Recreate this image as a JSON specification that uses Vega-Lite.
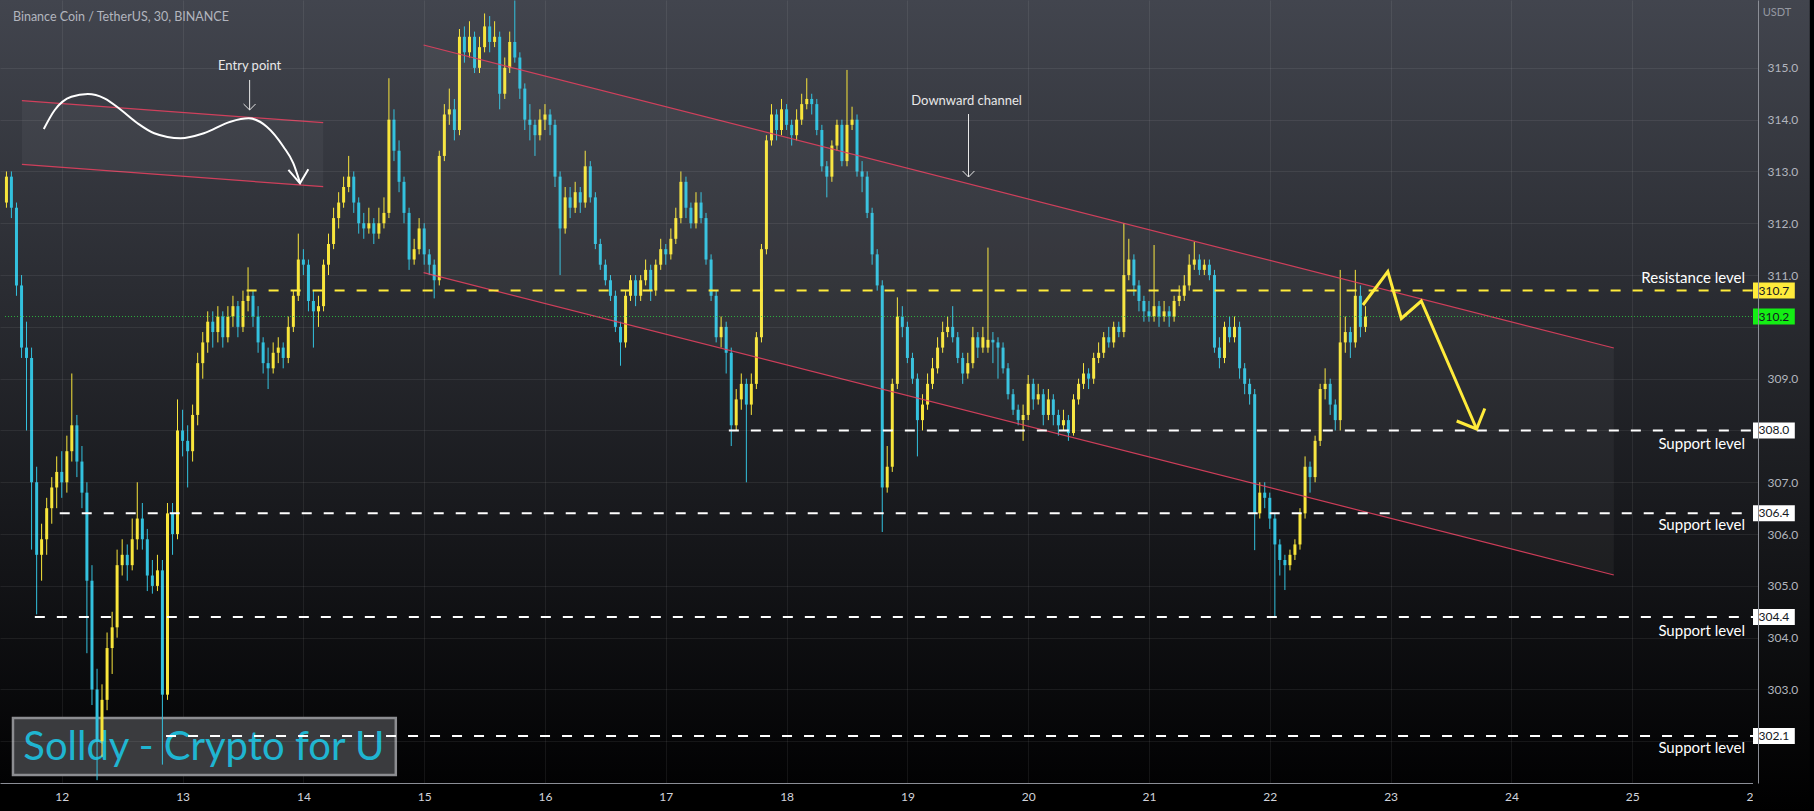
{
"$schema":"https://vega.github.io/schema/vega-lite/v6.json",
"width":1758,"height":783,
"autosize":{"type":"none"},
"padding":{"left":0,"top":0,"right":56,"bottom":28},
"background":"#000000",
"config":{
 "font":"Lato",
 "view":{"stroke":null,"fill":{"gradient":"linear","x1":0,"y1":0,"x2":0,"y2":1,"stops":[{"offset":0,"color":"#42454e"},{"offset":1,"color":"#020203"}]}}
},
"datasets":{
 "candles":[
{"t":11.542,"o":312.4,"h":313.0,"l":312.3,"c":312.9},
{"t":11.583,"o":312.9,"h":313.0,"l":312.1,"c":312.3},
{"t":11.625,"o":312.3,"h":312.4,"l":310.6,"c":310.8},
{"t":11.667,"o":310.8,"h":311.0,"l":309.4,"c":309.6},
{"t":11.708,"o":309.6,"h":310.1,"l":308.0,"c":309.4},
{"t":11.75,"o":309.4,"h":309.6,"l":305.7,"c":307.0},
{"t":11.792,"o":307.0,"h":307.3,"l":304.45,"c":305.6},
{"t":11.833,"o":305.6,"h":306.2,"l":305.1,"c":305.9},
{"t":11.875,"o":305.9,"h":306.7,"l":305.6,"c":306.5},
{"t":11.917,"o":306.5,"h":307.1,"l":306.2,"c":306.9},
{"t":11.958,"o":306.9,"h":307.5,"l":306.5,"c":307.2},
{"t":12.0,"o":307.2,"h":307.6,"l":306.7,"c":307.0},
{"t":12.042,"o":307.0,"h":307.9,"l":306.8,"c":307.6},
{"t":12.083,"o":307.6,"h":309.1,"l":307.4,"c":308.1},
{"t":12.125,"o":308.1,"h":308.3,"l":307.1,"c":307.4},
{"t":12.167,"o":307.4,"h":307.7,"l":306.5,"c":306.8},
{"t":12.208,"o":306.8,"h":307.0,"l":303.7,"c":305.1},
{"t":12.25,"o":305.1,"h":305.4,"l":302.7,"c":303.0},
{"t":12.292,"o":303.0,"h":303.4,"l":301.25,"c":302.0},
{"t":12.333,"o":302.0,"h":303.1,"l":301.7,"c":302.8},
{"t":12.375,"o":302.8,"h":304.1,"l":302.6,"c":303.8},
{"t":12.417,"o":303.8,"h":304.5,"l":303.3,"c":304.2},
{"t":12.458,"o":304.2,"h":305.7,"l":304.0,"c":305.4},
{"t":12.5,"o":305.4,"h":305.9,"l":305.2,"c":305.6},
{"t":12.542,"o":305.6,"h":305.8,"l":305.1,"c":305.4},
{"t":12.583,"o":305.4,"h":306.3,"l":305.3,"c":305.9},
{"t":12.625,"o":305.9,"h":307.0,"l":305.7,"c":306.3},
{"t":12.667,"o":306.3,"h":306.6,"l":305.7,"c":305.9},
{"t":12.708,"o":305.9,"h":306.1,"l":304.9,"c":305.2},
{"t":12.75,"o":305.2,"h":305.5,"l":304.85,"c":305.0},
{"t":12.792,"o":305.0,"h":305.6,"l":304.9,"c":305.3},
{"t":12.833,"o":305.3,"h":305.5,"l":301.55,"c":302.9},
{"t":12.875,"o":302.9,"h":306.6,"l":302.8,"c":306.4},
{"t":12.917,"o":306.4,"h":306.6,"l":305.6,"c":306.0},
{"t":12.958,"o":306.0,"h":308.6,"l":305.9,"c":308.0},
{"t":13.0,"o":308.0,"h":308.4,"l":307.5,"c":307.8},
{"t":13.042,"o":307.8,"h":308.1,"l":306.9,"c":307.6},
{"t":13.083,"o":307.6,"h":308.5,"l":307.4,"c":308.3},
{"t":13.125,"o":308.3,"h":309.5,"l":308.1,"c":309.3},
{"t":13.167,"o":309.3,"h":309.9,"l":309.0,"c":309.7},
{"t":13.208,"o":309.7,"h":310.3,"l":309.5,"c":310.1},
{"t":13.25,"o":310.1,"h":310.3,"l":309.6,"c":309.9},
{"t":13.292,"o":309.9,"h":310.4,"l":309.7,"c":310.2},
{"t":13.333,"o":310.2,"h":310.3,"l":309.6,"c":309.8},
{"t":13.375,"o":309.8,"h":310.4,"l":309.7,"c":310.2},
{"t":13.417,"o":310.2,"h":310.6,"l":310.0,"c":310.4},
{"t":13.458,"o":310.4,"h":310.5,"l":309.8,"c":310.0},
{"t":13.5,"o":310.0,"h":310.7,"l":309.9,"c":310.5},
{"t":13.542,"o":310.5,"h":311.15,"l":310.3,"c":310.6},
{"t":13.583,"o":310.6,"h":310.7,"l":310.0,"c":310.2},
{"t":13.625,"o":310.2,"h":310.4,"l":309.5,"c":309.7},
{"t":13.667,"o":309.7,"h":309.8,"l":309.1,"c":309.3},
{"t":13.708,"o":309.3,"h":309.6,"l":308.8,"c":309.2},
{"t":13.75,"o":309.2,"h":309.7,"l":309.1,"c":309.5},
{"t":13.792,"o":309.5,"h":309.8,"l":309.3,"c":309.6},
{"t":13.833,"o":309.6,"h":309.7,"l":309.2,"c":309.4},
{"t":13.875,"o":309.4,"h":310.2,"l":309.3,"c":310.0},
{"t":13.917,"o":310.0,"h":310.7,"l":309.9,"c":310.6},
{"t":13.958,"o":310.6,"h":311.8,"l":310.5,"c":311.3},
{"t":14.0,"o":311.3,"h":311.5,"l":311.0,"c":311.2},
{"t":14.042,"o":311.2,"h":311.3,"l":310.3,"c":310.5},
{"t":14.083,"o":310.5,"h":310.7,"l":309.6,"c":310.3},
{"t":14.125,"o":310.3,"h":310.6,"l":310.0,"c":310.4},
{"t":14.167,"o":310.4,"h":311.3,"l":310.3,"c":311.2},
{"t":14.208,"o":311.2,"h":311.8,"l":311.0,"c":311.6},
{"t":14.25,"o":311.6,"h":312.3,"l":311.5,"c":312.1},
{"t":14.292,"o":312.1,"h":312.6,"l":311.9,"c":312.4},
{"t":14.333,"o":312.4,"h":312.9,"l":312.3,"c":312.7},
{"t":14.375,"o":312.7,"h":313.3,"l":312.6,"c":312.9},
{"t":14.417,"o":312.9,"h":313.0,"l":312.2,"c":312.4},
{"t":14.458,"o":312.4,"h":312.5,"l":311.8,"c":312.0},
{"t":14.5,"o":312.0,"h":312.2,"l":311.7,"c":311.9},
{"t":14.542,"o":311.9,"h":312.3,"l":311.8,"c":312.0},
{"t":14.583,"o":312.0,"h":312.1,"l":311.6,"c":311.8},
{"t":14.625,"o":311.8,"h":312.3,"l":311.7,"c":312.0},
{"t":14.667,"o":312.0,"h":312.5,"l":311.9,"c":312.2},
{"t":14.708,"o":312.2,"h":314.8,"l":312.1,"c":314.0},
{"t":14.75,"o":314.0,"h":314.2,"l":313.2,"c":313.4},
{"t":14.792,"o":313.4,"h":313.6,"l":312.6,"c":312.8},
{"t":14.833,"o":312.8,"h":312.9,"l":312.0,"c":312.2},
{"t":14.875,"o":312.2,"h":312.3,"l":311.1,"c":311.3},
{"t":14.917,"o":311.3,"h":311.7,"l":311.2,"c":311.5},
{"t":14.958,"o":311.5,"h":312.1,"l":311.4,"c":311.9},
{"t":15.0,"o":311.9,"h":312.0,"l":311.2,"c":311.4},
{"t":15.042,"o":311.4,"h":311.5,"l":311.0,"c":311.2},
{"t":15.083,"o":311.2,"h":311.3,"l":310.55,"c":310.9},
{"t":15.125,"o":310.9,"h":313.4,"l":310.8,"c":313.3},
{"t":15.167,"o":313.3,"h":314.3,"l":313.2,"c":314.1},
{"t":15.208,"o":314.1,"h":314.6,"l":313.9,"c":314.2},
{"t":15.25,"o":314.2,"h":314.4,"l":313.6,"c":313.8},
{"t":15.292,"o":313.8,"h":315.75,"l":313.7,"c":315.6},
{"t":15.333,"o":315.6,"h":315.8,"l":315.1,"c":315.3},
{"t":15.375,"o":315.3,"h":315.9,"l":315.2,"c":315.6},
{"t":15.417,"o":315.6,"h":315.7,"l":314.9,"c":315.0},
{"t":15.458,"o":315.0,"h":315.6,"l":314.9,"c":315.4},
{"t":15.5,"o":315.4,"h":316.05,"l":315.3,"c":315.8},
{"t":15.542,"o":315.8,"h":316.0,"l":315.3,"c":315.5},
{"t":15.583,"o":315.5,"h":315.9,"l":315.4,"c":315.6},
{"t":15.625,"o":315.6,"h":315.7,"l":314.2,"c":314.5},
{"t":15.667,"o":314.5,"h":315.2,"l":314.4,"c":315.0},
{"t":15.708,"o":315.0,"h":315.7,"l":314.9,"c":315.5},
{"t":15.75,"o":315.5,"h":316.3,"l":315.1,"c":315.2},
{"t":15.792,"o":315.2,"h":315.3,"l":314.4,"c":314.6},
{"t":15.833,"o":314.6,"h":314.7,"l":313.8,"c":314.0},
{"t":15.875,"o":314.0,"h":314.3,"l":313.6,"c":313.9},
{"t":15.917,"o":313.9,"h":314.0,"l":313.3,"c":313.7},
{"t":15.958,"o":313.7,"h":314.2,"l":313.6,"c":314.0},
{"t":16.0,"o":314.0,"h":314.3,"l":313.8,"c":314.1},
{"t":16.042,"o":314.1,"h":314.2,"l":313.7,"c":313.9},
{"t":16.083,"o":313.9,"h":314.0,"l":312.7,"c":312.9},
{"t":16.125,"o":312.9,"h":313.0,"l":311.0,"c":311.9},
{"t":16.167,"o":311.9,"h":312.7,"l":311.8,"c":312.5},
{"t":16.208,"o":312.5,"h":312.7,"l":312.1,"c":312.3},
{"t":16.25,"o":312.3,"h":312.8,"l":312.2,"c":312.6},
{"t":16.292,"o":312.6,"h":312.7,"l":312.2,"c":312.4},
{"t":16.333,"o":312.4,"h":313.4,"l":312.3,"c":313.1},
{"t":16.375,"o":313.1,"h":313.2,"l":312.4,"c":312.5},
{"t":16.417,"o":312.5,"h":312.6,"l":311.5,"c":311.6},
{"t":16.458,"o":311.6,"h":311.7,"l":311.1,"c":311.2},
{"t":16.5,"o":311.2,"h":311.3,"l":310.8,"c":310.9},
{"t":16.542,"o":310.9,"h":311.0,"l":310.5,"c":310.6},
{"t":16.583,"o":310.6,"h":310.7,"l":309.9,"c":310.0},
{"t":16.625,"o":310.0,"h":310.1,"l":309.25,"c":309.7},
{"t":16.667,"o":309.7,"h":310.7,"l":309.6,"c":310.6},
{"t":16.708,"o":310.6,"h":311.0,"l":310.5,"c":310.9},
{"t":16.75,"o":310.9,"h":311.0,"l":310.4,"c":310.6},
{"t":16.792,"o":310.6,"h":311.0,"l":310.5,"c":310.9},
{"t":16.833,"o":310.9,"h":311.3,"l":310.8,"c":311.1},
{"t":16.875,"o":311.1,"h":311.2,"l":310.5,"c":310.7},
{"t":16.917,"o":310.7,"h":311.3,"l":310.6,"c":311.2},
{"t":16.958,"o":311.2,"h":311.7,"l":311.1,"c":311.5},
{"t":17.0,"o":311.5,"h":311.6,"l":311.2,"c":311.4},
{"t":17.042,"o":311.4,"h":311.9,"l":311.3,"c":311.7},
{"t":17.083,"o":311.7,"h":312.3,"l":311.6,"c":312.1},
{"t":17.125,"o":312.1,"h":313.0,"l":312.0,"c":312.8},
{"t":17.167,"o":312.8,"h":312.9,"l":312.1,"c":312.3},
{"t":17.208,"o":312.3,"h":312.4,"l":311.9,"c":312.0},
{"t":17.25,"o":312.0,"h":312.6,"l":311.9,"c":312.4},
{"t":17.292,"o":312.4,"h":312.6,"l":312.0,"c":312.1},
{"t":17.333,"o":312.1,"h":312.2,"l":311.2,"c":311.3},
{"t":17.375,"o":311.3,"h":311.4,"l":310.5,"c":310.6},
{"t":17.417,"o":310.6,"h":310.7,"l":309.7,"c":309.8},
{"t":17.458,"o":309.8,"h":310.2,"l":309.6,"c":310.0},
{"t":17.5,"o":310.0,"h":310.1,"l":309.1,"c":309.5},
{"t":17.542,"o":309.5,"h":309.6,"l":307.7,"c":308.1},
{"t":17.583,"o":308.1,"h":308.8,"l":308.0,"c":308.6},
{"t":17.625,"o":308.6,"h":309.1,"l":308.4,"c":308.9},
{"t":17.667,"o":308.9,"h":309.0,"l":307.0,"c":308.5},
{"t":17.708,"o":308.5,"h":309.1,"l":308.3,"c":308.9},
{"t":17.75,"o":308.9,"h":309.9,"l":308.8,"c":309.8},
{"t":17.792,"o":309.8,"h":311.6,"l":309.7,"c":311.5},
{"t":17.833,"o":311.5,"h":313.7,"l":311.4,"c":313.6},
{"t":17.875,"o":313.6,"h":314.3,"l":313.5,"c":314.1},
{"t":17.917,"o":314.1,"h":314.2,"l":313.6,"c":313.8},
{"t":17.958,"o":313.8,"h":314.4,"l":313.7,"c":314.2},
{"t":18.0,"o":314.2,"h":314.3,"l":313.8,"c":313.9},
{"t":18.042,"o":313.9,"h":314.0,"l":313.5,"c":313.7},
{"t":18.083,"o":313.7,"h":314.2,"l":313.6,"c":314.0},
{"t":18.125,"o":314.0,"h":314.5,"l":313.9,"c":314.3},
{"t":18.167,"o":314.3,"h":314.8,"l":314.2,"c":314.4},
{"t":18.208,"o":314.4,"h":314.5,"l":314.1,"c":314.3},
{"t":18.25,"o":314.3,"h":314.4,"l":313.7,"c":313.8},
{"t":18.292,"o":313.8,"h":313.9,"l":313.0,"c":313.1},
{"t":18.333,"o":313.1,"h":313.2,"l":312.5,"c":312.9},
{"t":18.375,"o":312.9,"h":313.6,"l":312.8,"c":313.5},
{"t":18.417,"o":313.5,"h":314.0,"l":313.4,"c":313.9},
{"t":18.458,"o":313.9,"h":314.0,"l":313.1,"c":313.2},
{"t":18.5,"o":313.2,"h":314.96,"l":313.1,"c":313.9},
{"t":18.542,"o":313.9,"h":314.25,"l":313.8,"c":314.0},
{"t":18.583,"o":314.0,"h":314.1,"l":312.9,"c":313.0},
{"t":18.625,"o":313.0,"h":313.2,"l":312.6,"c":312.9},
{"t":18.667,"o":312.9,"h":313.0,"l":312.1,"c":312.2},
{"t":18.708,"o":312.2,"h":312.3,"l":311.2,"c":311.4},
{"t":18.75,"o":311.4,"h":311.5,"l":310.7,"c":310.8},
{"t":18.792,"o":310.8,"h":310.9,"l":306.04,"c":306.9},
{"t":18.833,"o":306.9,"h":307.7,"l":306.8,"c":307.3},
{"t":18.875,"o":307.3,"h":309.0,"l":307.2,"c":308.9},
{"t":18.917,"o":308.9,"h":310.57,"l":308.8,"c":310.2},
{"t":18.958,"o":310.2,"h":310.4,"l":309.8,"c":310.0},
{"t":19.0,"o":310.0,"h":310.1,"l":309.3,"c":309.4},
{"t":19.042,"o":309.4,"h":309.5,"l":308.9,"c":309.0},
{"t":19.083,"o":309.0,"h":309.1,"l":307.5,"c":308.2},
{"t":19.125,"o":308.2,"h":308.7,"l":308.0,"c":308.5},
{"t":19.167,"o":308.5,"h":309.1,"l":308.4,"c":308.9},
{"t":19.208,"o":308.9,"h":309.4,"l":308.8,"c":309.2},
{"t":19.25,"o":309.2,"h":309.8,"l":309.1,"c":309.6},
{"t":19.292,"o":309.6,"h":310.1,"l":309.5,"c":309.9},
{"t":19.333,"o":309.9,"h":310.2,"l":309.8,"c":310.0},
{"t":19.375,"o":310.0,"h":310.4,"l":309.7,"c":309.8},
{"t":19.417,"o":309.8,"h":309.9,"l":309.3,"c":309.4},
{"t":19.458,"o":309.4,"h":309.5,"l":308.9,"c":309.1},
{"t":19.5,"o":309.1,"h":309.5,"l":309.0,"c":309.3},
{"t":19.542,"o":309.3,"h":310.0,"l":309.2,"c":309.8},
{"t":19.583,"o":309.8,"h":309.9,"l":309.4,"c":309.6},
{"t":19.625,"o":309.6,"h":310.0,"l":309.5,"c":309.8},
{"t":19.667,"o":309.6,"h":311.53,"l":309.5,"c":309.75},
{"t":19.708,"o":309.75,"h":309.9,"l":309.3,"c":309.7},
{"t":19.75,"o":309.7,"h":309.8,"l":309.0,"c":309.6},
{"t":19.792,"o":309.6,"h":309.7,"l":309.1,"c":309.2},
{"t":19.833,"o":309.2,"h":309.3,"l":308.6,"c":308.7},
{"t":19.875,"o":308.7,"h":308.8,"l":308.3,"c":308.4},
{"t":19.917,"o":308.4,"h":308.5,"l":308.1,"c":308.2},
{"t":19.958,"o":308.2,"h":308.5,"l":307.8,"c":308.3},
{"t":20.0,"o":308.3,"h":309.07,"l":308.2,"c":308.9},
{"t":20.042,"o":308.9,"h":309.0,"l":308.4,"c":308.6},
{"t":20.083,"o":308.6,"h":308.9,"l":308.5,"c":308.7},
{"t":20.125,"o":308.7,"h":308.8,"l":308.1,"c":308.3},
{"t":20.167,"o":308.3,"h":308.8,"l":308.2,"c":308.6},
{"t":20.208,"o":308.6,"h":308.7,"l":308.1,"c":308.3},
{"t":20.25,"o":308.3,"h":308.4,"l":307.9,"c":308.1},
{"t":20.292,"o":308.1,"h":308.4,"l":308.0,"c":308.2},
{"t":20.333,"o":308.2,"h":308.3,"l":307.8,"c":307.95},
{"t":20.375,"o":307.95,"h":308.7,"l":307.9,"c":308.6},
{"t":20.417,"o":308.6,"h":309.0,"l":308.5,"c":308.9},
{"t":20.458,"o":308.9,"h":309.3,"l":308.8,"c":309.1},
{"t":20.5,"o":309.1,"h":309.2,"l":308.8,"c":309.0},
{"t":20.542,"o":309.0,"h":309.5,"l":308.9,"c":309.4},
{"t":20.583,"o":309.4,"h":309.7,"l":309.3,"c":309.5},
{"t":20.625,"o":309.5,"h":309.9,"l":309.4,"c":309.8},
{"t":20.667,"o":309.8,"h":310.0,"l":309.6,"c":309.7},
{"t":20.708,"o":309.7,"h":310.1,"l":309.6,"c":310.0},
{"t":20.75,"o":310.0,"h":310.1,"l":309.8,"c":309.9},
{"t":20.792,"o":309.9,"h":312.0,"l":309.8,"c":311.0},
{"t":20.833,"o":311.0,"h":311.7,"l":310.9,"c":311.3},
{"t":20.875,"o":311.3,"h":311.4,"l":310.6,"c":310.8},
{"t":20.917,"o":310.8,"h":310.9,"l":310.3,"c":310.5},
{"t":20.958,"o":310.5,"h":310.6,"l":310.1,"c":310.3},
{"t":21.0,"o":310.3,"h":310.5,"l":310.1,"c":310.2},
{"t":21.042,"o":310.2,"h":311.58,"l":310.1,"c":310.4},
{"t":21.083,"o":310.4,"h":310.5,"l":310.0,"c":310.2},
{"t":21.125,"o":310.2,"h":310.5,"l":310.1,"c":310.3},
{"t":21.167,"o":310.3,"h":310.4,"l":310.0,"c":310.2},
{"t":21.208,"o":310.2,"h":310.6,"l":310.1,"c":310.5},
{"t":21.25,"o":310.5,"h":310.8,"l":310.4,"c":310.6},
{"t":21.292,"o":310.6,"h":311.0,"l":310.5,"c":310.8},
{"t":21.333,"o":310.8,"h":311.4,"l":310.7,"c":311.2},
{"t":21.375,"o":311.2,"h":311.64,"l":311.1,"c":311.3},
{"t":21.417,"o":311.3,"h":311.4,"l":311.0,"c":311.1},
{"t":21.458,"o":311.1,"h":311.3,"l":311.0,"c":311.2},
{"t":21.5,"o":311.2,"h":311.3,"l":310.9,"c":311.0},
{"t":21.542,"o":311.0,"h":311.1,"l":309.5,"c":309.6},
{"t":21.583,"o":309.6,"h":309.8,"l":309.2,"c":309.4},
{"t":21.625,"o":309.4,"h":310.1,"l":309.3,"c":310.0},
{"t":21.667,"o":310.0,"h":310.2,"l":309.7,"c":309.8},
{"t":21.708,"o":309.8,"h":310.2,"l":309.7,"c":310.0},
{"t":21.75,"o":310.0,"h":310.1,"l":309.0,"c":309.2},
{"t":21.792,"o":309.2,"h":309.3,"l":308.7,"c":308.9},
{"t":21.833,"o":308.9,"h":309.0,"l":308.5,"c":308.7},
{"t":21.875,"o":308.7,"h":308.8,"l":305.69,"c":306.4},
{"t":21.917,"o":306.4,"h":307.0,"l":306.3,"c":306.8},
{"t":21.958,"o":306.8,"h":307.0,"l":306.5,"c":306.7},
{"t":22.0,"o":306.7,"h":306.8,"l":306.1,"c":306.3},
{"t":22.042,"o":306.3,"h":306.4,"l":304.4,"c":305.8},
{"t":22.083,"o":305.8,"h":305.9,"l":305.2,"c":305.5},
{"t":22.125,"o":305.5,"h":305.6,"l":304.92,"c":305.4},
{"t":22.167,"o":305.4,"h":305.7,"l":305.3,"c":305.6},
{"t":22.208,"o":305.6,"h":305.9,"l":305.5,"c":305.8},
{"t":22.25,"o":305.8,"h":306.5,"l":305.7,"c":306.4},
{"t":22.292,"o":306.4,"h":307.5,"l":306.3,"c":307.3},
{"t":22.333,"o":307.3,"h":307.4,"l":306.8,"c":307.1},
{"t":22.375,"o":307.1,"h":307.9,"l":307.0,"c":307.8},
{"t":22.417,"o":307.8,"h":308.9,"l":307.7,"c":308.8},
{"t":22.458,"o":308.8,"h":309.2,"l":308.6,"c":308.9},
{"t":22.5,"o":308.9,"h":309.0,"l":308.3,"c":308.5},
{"t":22.542,"o":308.5,"h":308.6,"l":308.0,"c":308.2},
{"t":22.583,"o":308.2,"h":311.1,"l":308.0,"c":309.7},
{"t":22.625,"o":309.7,"h":310.2,"l":309.5,"c":309.9},
{"t":22.667,"o":309.9,"h":310.0,"l":309.4,"c":309.7},
{"t":22.708,"o":309.7,"h":311.1,"l":309.6,"c":310.6},
{"t":22.75,"o":310.6,"h":310.8,"l":309.8,"c":310.0},
{"t":22.792,"o":310.0,"h":310.4,"l":309.9,"c":310.2}
 ],
 "channels":[
  {"g":"entry","x":11.670,"u":314.366,"lo":313.138},
  {"g":"entry","x":14.164,"u":313.941,"lo":312.706},
  {"g":"down","x":14.995,"u":315.441,"lo":311.046},
  {"g":"down","x":24.848,"u":309.592,"lo":305.210}
 ],
 "curve":[
  {"x":11.851,"y":313.820},{"x":11.942,"y":314.187},{"x":12.079,"y":314.443},{"x":12.216,"y":314.495},
  {"x":12.353,"y":314.412},{"x":12.491,"y":314.186},{"x":12.627,"y":313.930},{"x":12.765,"y":313.737},
  {"x":12.984,"y":313.640},{"x":13.176,"y":313.737},{"x":13.396,"y":313.961},{"x":13.547,"y":314.026},
  {"x":13.697,"y":313.864},{"x":13.835,"y":313.478},{"x":13.917,"y":313.158},{"x":13.972,"y":312.783}
 ],
 "whiteArrows":[
  {"g":"c","i":0,"x":13.876,"y":313.029},{"g":"c","i":1,"x":13.972,"y":312.770},{"g":"c","i":2,"x":14.041,"y":313.042}
 ],
 "thinArrows":[
  {"g":"e1","i":0,"x":13.555,"y":314.766},{"g":"e1","i":1,"x":13.555,"y":314.187},
  {"g":"e2","i":0,"x":13.505,"y":314.302},{"g":"e2","i":1,"x":13.555,"y":314.187},{"g":"e2","i":2,"x":13.604,"y":314.302},
  {"g":"d1","i":0,"x":19.506,"y":314.109},{"g":"d1","i":1,"x":19.506,"y":312.893},
  {"g":"d2","i":0,"x":19.457,"y":313.009},{"g":"d2","i":1,"x":19.506,"y":312.893},{"g":"d2","i":2,"x":19.555,"y":313.009}
 ],
 "yellowPath":[
  {"g":"z","i":0,"x":22.771,"y":310.422},{"g":"z","i":1,"x":22.977,"y":311.069},{"g":"z","i":2,"x":23.089,"y":310.162},
  {"g":"z","i":3,"x":23.254,"y":310.499},{"g":"z","i":4,"x":23.712,"y":308.029},
  {"g":"h","i":0,"x":23.547,"y":308.183},{"g":"h","i":1,"x":23.712,"y":308.029},{"g":"h","i":2,"x":23.780,"y":308.424}
 ],
 "resistance":[{"p":310.7,"s":13.530}],
 "supports":[{"p":308.0,"s":17.522},{"p":306.4,"s":11.983},{"p":304.4,"s":11.777},{"p":302.1,"s":12.863}],
 "annot":[{"x":13.555,"y":315.036,"txt":"Entry point"},{"x":19.490,"y":314.360,"txt":"Downward channel"}],
 "levelText":[{"x":25.934,"y":310.953,"txt":"Resistance level"},{"x":25.934,"y":307.739,"txt":"Support level"},{"x":25.934,"y":306.175,"txt":"Support level"},{"x":25.934,"y":304.120,"txt":"Support level"},{"x":25.934,"y":301.861,"txt":"Support level"}],
 "boxesAll":[{"p":310.7},{"p":310.2},{"p":308.0},{"p":306.4},{"p":304.4},{"p":302.1}]
},
"layer":[
 {"data":{"values":[{"x1":26.0,"x2":26.47,"y1":316.31,"y2":300.65}]},
  "mark":{"type":"rect","clip":false,"fill":{"gradient":"linear","x1":0,"y1":0,"x2":0,"y2":1,"stops":[{"offset":0,"color":"#42454e"},{"offset":1,"color":"#000000"}]}},
  "encoding":{
   "x":{"field":"x1","type":"quantitative","scale":{"domain":[11.53,26],"nice":false,"zero":false},"axis":{"values":[12,13,14,15,16,17,18,19,20,21,22,23,24,25,26],"format":"d","title":null,"ticks":false,"labelFlush":false,"labelOverlap":false,"labelBound":false,"labelColor":"#d1d4dc","labelFontSize":12,"labelPadding":8,"domainColor":"#8b8e96","grid":true,"gridColor":"#ffffff","gridOpacity":0.07,"zindex":0}},
   "x2":{"field":"x2"},
   "y":{"field":"y1","type":"quantitative","scale":{"domain":[301.195,316.31],"nice":false,"zero":false},"axis":{"orient":"right","values":[302,303,304,305,306,307,308,309,310,311,312,313,314,315],"labelExpr":"(datum.value == 302 || datum.value == 308 || datum.value == 310) ? '' : format(datum.value, '.1f')","title":null,"ticks":false,"labelFlush":false,"labelOverlap":false,"labelBound":false,"labelColor":"#b2b5be","labelFontSize":12,"labelPadding":9,"domainColor":"#8b8e96","grid":true,"gridColor":"#ffffff","gridOpacity":0.07,"zindex":1}},
   "y2":{"field":"y2"}}},
 {"data":{"values":[{"x1":11.596,"x2":14.765,"y1":302.450,"y2":301.349}]},
  "mark":{"type":"rect","fill":"#3a3b3e","stroke":"#8c8d91","strokeWidth":2.5},
  "encoding":{"x":{"field":"x1","type":"quantitative","scale":{"domain":[11.53,26],"nice":false,"zero":false},"title":null},"x2":{"field":"x2"},
   "y":{"field":"y1","type":"quantitative","scale":{"domain":[301.195,316.31],"nice":false,"zero":false},"title":null},"y2":{"field":"y2"}}},
 {"data":{"values":[{"x":13.176,"y":301.639,"txt":"Solldy - Crypto for U"}]},
  "mark":{"type":"text","font":"Lato","fontSize":40,"color":"#1fb5d1","align":"center","baseline":"alphabetic"},
  "encoding":{"x":{"field":"x","type":"quantitative","scale":{"domain":[11.53,26],"nice":false,"zero":false},"title":null},
   "y":{"field":"y","type":"quantitative","scale":{"domain":[301.195,316.31],"nice":false,"zero":false},"title":null},"text":{"field":"txt"}}},
 {"data":{"name":"candles"},
  "mark":{"type":"rule","strokeWidth":1},
  "encoding":{"x":{"field":"t","type":"quantitative","scale":{"domain":[11.53,26],"nice":false,"zero":false},"title":null},
   "y":{"field":"l","type":"quantitative","scale":{"domain":[301.195,316.31],"nice":false,"zero":false},"title":null},"y2":{"field":"h"},
   "color":{"condition":{"test":"datum.c >= datum.o","value":"#f8e53b"},"value":"#33c1de"}}},
 {"data":{"name":"candles"},
  "mark":{"type":"bar","size":3},
  "encoding":{"x":{"field":"t","type":"quantitative","scale":{"domain":[11.53,26],"nice":false,"zero":false},"title":null},
   "y":{"field":"o","type":"quantitative","scale":{"domain":[301.195,316.31],"nice":false,"zero":false},"title":null},"y2":{"field":"c"},
   "color":{"condition":{"test":"datum.c >= datum.o","value":"#f8e53b"},"value":"#33c1de"}}},
 {"data":{"name":"channels"},
  "mark":{"type":"area","color":"#ffffff","opacity":0.045},
  "encoding":{"x":{"field":"x","type":"quantitative","scale":{"domain":[11.53,26],"nice":false,"zero":false},"title":null},
   "y":{"field":"lo","type":"quantitative","scale":{"domain":[301.195,316.31],"nice":false,"zero":false},"title":null},"y2":{"field":"u"},"detail":{"field":"g"}}},
 {"data":{"name":"channels"},
  "mark":{"type":"line","color":"#e0405e","strokeWidth":1.2,"opacity":0.9},
  "encoding":{"x":{"field":"x","type":"quantitative","scale":{"domain":[11.53,26],"nice":false,"zero":false},"title":null},
   "y":{"field":"u","type":"quantitative","scale":{"domain":[301.195,316.31],"nice":false,"zero":false},"title":null},"detail":{"field":"g"}}},
 {"data":{"name":"channels"},
  "mark":{"type":"line","color":"#e0405e","strokeWidth":1.2,"opacity":0.9},
  "encoding":{"x":{"field":"x","type":"quantitative","scale":{"domain":[11.53,26],"nice":false,"zero":false},"title":null},
   "y":{"field":"lo","type":"quantitative","scale":{"domain":[301.195,316.31],"nice":false,"zero":false},"title":null},"detail":{"field":"g"}}},
 {"data":{"values":[{"p":310.2,"s":11.53}]},
  "mark":{"type":"rule","color":"#2ecc40","strokeWidth":1,"strokeDash":[1,2],"opacity":0.8},
  "encoding":{"x":{"field":"s","type":"quantitative","scale":{"domain":[11.53,26],"nice":false,"zero":false},"title":null},"x2":{"datum":26},
   "y":{"field":"p","type":"quantitative","scale":{"domain":[301.195,316.31],"nice":false,"zero":false},"title":null}}},
 {"data":{"name":"resistance"},
  "mark":{"type":"rule","color":"#ffeb3b","strokeWidth":2,"strokeDash":[10,12]},
  "encoding":{"x":{"field":"s","type":"quantitative","scale":{"domain":[11.53,26],"nice":false,"zero":false},"title":null},"x2":{"datum":26},
   "y":{"field":"p","type":"quantitative","scale":{"domain":[301.195,316.31],"nice":false,"zero":false},"title":null}}},
 {"data":{"name":"supports"},
  "mark":{"type":"rule","color":"#ffffff","strokeWidth":2,"strokeDash":[10,12]},
  "encoding":{"x":{"field":"s","type":"quantitative","scale":{"domain":[11.53,26],"nice":false,"zero":false},"title":null},"x2":{"datum":26},
   "y":{"field":"p","type":"quantitative","scale":{"domain":[301.195,316.31],"nice":false,"zero":false},"title":null}}},
 {"data":{"name":"curve"},
  "mark":{"type":"line","color":"#ffffff","strokeWidth":2,"interpolate":"monotone"},
  "encoding":{"x":{"field":"x","type":"quantitative","scale":{"domain":[11.53,26],"nice":false,"zero":false},"title":null},
   "y":{"field":"y","type":"quantitative","scale":{"domain":[301.195,316.31],"nice":false,"zero":false},"title":null}}},
 {"data":{"name":"whiteArrows"},
  "mark":{"type":"line","color":"#ffffff","strokeWidth":2},
  "encoding":{"x":{"field":"x","type":"quantitative","scale":{"domain":[11.53,26],"nice":false,"zero":false},"title":null},
   "y":{"field":"y","type":"quantitative","scale":{"domain":[301.195,316.31],"nice":false,"zero":false},"title":null},"detail":{"field":"g"},"order":{"field":"i"}}},
 {"data":{"name":"thinArrows"},
  "mark":{"type":"line","color":"#e8e8e8","strokeWidth":1},
  "encoding":{"x":{"field":"x","type":"quantitative","scale":{"domain":[11.53,26],"nice":false,"zero":false},"title":null},
   "y":{"field":"y","type":"quantitative","scale":{"domain":[301.195,316.31],"nice":false,"zero":false},"title":null},"detail":{"field":"g"},"order":{"field":"i"}}},
 {"data":{"name":"yellowPath"},
  "mark":{"type":"line","color":"#ffeb3b","strokeWidth":3,"strokeJoin":"miter"},
  "encoding":{"x":{"field":"x","type":"quantitative","scale":{"domain":[11.53,26],"nice":false,"zero":false},"title":null},
   "y":{"field":"y","type":"quantitative","scale":{"domain":[301.195,316.31],"nice":false,"zero":false},"title":null},"detail":{"field":"g"},"order":{"field":"i"}}},
 {"data":{"name":"annot"},
  "mark":{"type":"text","fontSize":13,"color":"#e8e8e8","align":"center","baseline":"middle"},
  "encoding":{"x":{"field":"x","type":"quantitative","scale":{"domain":[11.53,26],"nice":false,"zero":false},"title":null},
   "y":{"field":"y","type":"quantitative","scale":{"domain":[301.195,316.31],"nice":false,"zero":false},"title":null},"text":{"field":"txt"}}},
 {"data":{"name":"levelText"},
  "mark":{"type":"text","fontSize":15,"color":"#ffffff","align":"right","baseline":"middle"},
  "encoding":{"x":{"field":"x","type":"quantitative","scale":{"domain":[11.53,26],"nice":false,"zero":false},"title":null},
   "y":{"field":"y","type":"quantitative","scale":{"domain":[301.195,316.31],"nice":false,"zero":false},"title":null},"text":{"field":"txt"}}},
 {"data":{"values":[{"x":11.596,"y":315.988,"txt":"Binance Coin / TetherUS, 30, BINANCE"}]},
  "mark":{"type":"text","fontSize":12.5,"color":"#b2b5be","align":"left","baseline":"middle"},
  "encoding":{"x":{"field":"x","type":"quantitative","scale":{"domain":[11.53,26],"nice":false,"zero":false},"title":null},
   "y":{"field":"y","type":"quantitative","scale":{"domain":[301.195,316.31],"nice":false,"zero":false},"title":null},"text":{"field":"txt"}}},
 {"data":{"values":[{"x":26.198,"y":316.053,"txt":"USDT"}]},
  "mark":{"type":"text","fontSize":11,"color":"#9598a1","align":"center","baseline":"middle","clip":false},
  "encoding":{"x":{"field":"x","type":"quantitative","scale":{"domain":[11.53,26],"nice":false,"zero":false},"title":null},
   "y":{"field":"y","type":"quantitative","scale":{"domain":[301.195,316.31],"nice":false,"zero":false},"title":null},"text":{"field":"txt"}}},
 {"data":{"values":[{"p":310.7}]},
  "mark":{"type":"rule","color":"#ffeb3b","strokeWidth":16,"strokeCap":"butt","clip":false},
  "encoding":{"x":{"datum":26.0,"type":"quantitative","scale":{"domain":[11.53,26],"nice":false,"zero":false},"title":null},"x2":{"datum":26.346},
   "y":{"field":"p","type":"quantitative","scale":{"domain":[301.195,316.31],"nice":false,"zero":false},"title":null}}},
 {"data":{"values":[{"p":310.2}]},
  "mark":{"type":"rule","color":"#14ee14","strokeWidth":16,"strokeCap":"butt","clip":false},
  "encoding":{"x":{"datum":26.0,"type":"quantitative","scale":{"domain":[11.53,26],"nice":false,"zero":false},"title":null},"x2":{"datum":26.346},
   "y":{"field":"p","type":"quantitative","scale":{"domain":[301.195,316.31],"nice":false,"zero":false},"title":null}}},
 {"data":{"name":"supports"},
  "mark":{"type":"rule","color":"#ffffff","strokeWidth":16,"strokeCap":"butt","clip":false},
  "encoding":{"x":{"datum":26.0,"type":"quantitative","scale":{"domain":[11.53,26],"nice":false,"zero":false},"title":null},"x2":{"datum":26.346},
   "y":{"field":"p","type":"quantitative","scale":{"domain":[301.195,316.31],"nice":false,"zero":false},"title":null}}},
 {"data":{"name":"boxesAll"},
  "mark":{"type":"text","fontSize":12,"color":"#131722","align":"center","baseline":"middle","clip":false},
  "encoding":{"x":{"datum":26.173,"type":"quantitative","scale":{"domain":[11.53,26],"nice":false,"zero":false},"title":null},
   "y":{"field":"p","type":"quantitative","scale":{"domain":[301.195,316.31],"nice":false,"zero":false},"title":null},"text":{"field":"p","format":".1f"}}}
]
}
